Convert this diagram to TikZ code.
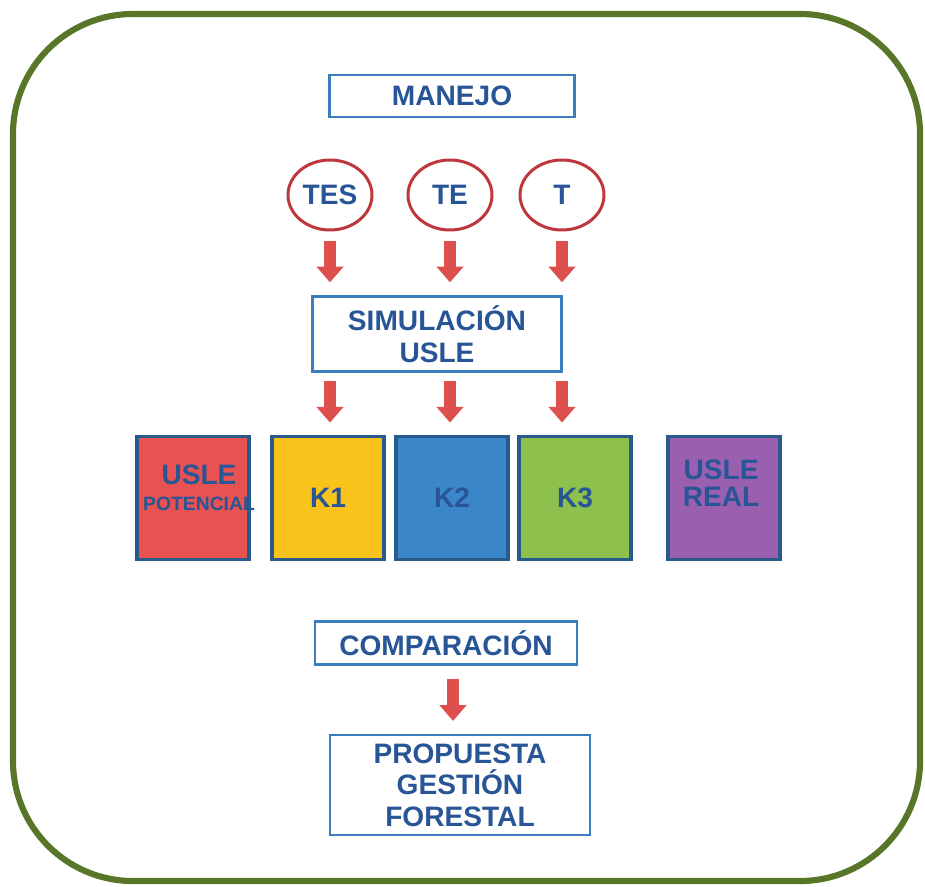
\documentclass[tikz,border=0pt]{standalone}
\usepackage{fontspec}
\setmainfont{Liberation Sans}
\usetikzlibrary{arrows.meta,shapes.geometric}
\definecolor{framegreen}{RGB}{88,118,40}
\definecolor{txtblue}{RGB}{40,85,150}
\definecolor{boxblue}{RGB}{60,125,190}
\definecolor{edgeblue}{RGB}{40,90,140}
\definecolor{ringred}{RGB}{190,55,60}
\definecolor{arrred}{RGB}{222,80,78}
\definecolor{kred}{RGB}{232,82,80}
\definecolor{kyellow}{RGB}{248,196,28}
\definecolor{kblue}{RGB}{58,134,200}
\definecolor{kgreen}{RGB}{141,192,77}
\definecolor{kpurple}{RGB}{155,95,176}
\tikzset{
  txt/.style={font=\bfseries\fontsize{16}{18}\selectfont, text=txtblue, align=center},
  labelbox/.style={txt, draw=boxblue, line width=1.3pt, fill=white},
  ring/.style={txt, ellipse, draw=ringred, line width=1.7pt, minimum width=1.68cm, minimum height=1.4cm, inner sep=0pt},
  kbox/.style={txt, draw=edgeblue, line width=2.2pt, minimum width=2.24cm, minimum height=2.46cm},
  blockarrow/.style={arrred, line width=7pt, -{Triangle[width=15pt,length=9pt]}}
}
\begin{document}
\begin{tikzpicture}[x=0.02cm, y=-0.02cm]
	\useasboundingbox (0,0) rectangle (925,886);
	\draw[framegreen, line width=3.5pt, rounded corners=2.4cm] (13,14) rectangle (920,881);
	\node[labelbox, minimum width=4.9cm, minimum height=0.84cm] (manejo) at (452,96) {MANEJO};
	\node[ring] (tes) at (330,195) {TES};
	\node[ring] (te) at (450,195) {TE};
	\node[ring] (t) at (562,195) {T};
	\node[labelbox, minimum width=4.98cm, minimum height=1.5cm] (sim) at (437,334) {SIMULACIÓN\\USLE};
	\node[kbox, fill=kred] (pot) at (193,498) {};
	\node[txt, inner sep=0pt] at (199,488) {USLE\\[-3pt]{\fontsize{11}{12}\selectfont POTENCIAL}};
	\node[kbox, fill=kyellow] (k1) at (328,498) {K1};
	\node[kbox, fill=kblue] (k2) at (452,498) {K2};
	\node[kbox, fill=kgreen] (k3) at (575,498) {K3};
	\node[kbox, fill=kpurple] (real) at (724,498) {};
	\node[txt, inner sep=0pt] at (721,483) {USLE\\[-3pt]REAL};
	\node[labelbox, minimum width=5.24cm, minimum height=0.86cm] (compar) at (446,643) {COMPARACIÓN};
	\node[labelbox, minimum width=5.2cm, minimum height=2cm] (prop) at (460,785) {PROPUESTA\\GESTIÓN\\FORESTAL};
	\foreach \c in {tes,te,t} {
		\draw[blockarrow, shorten <=0.2cm, shorten >=0.26cm] (\c.south) -- (\c |- sim.north);
		\draw[blockarrow, shorten <=0.16cm, shorten >=0.24cm] (\c |- sim.south) -- (\c |- k1.north);
	}
	\draw[blockarrow, shorten <=0.26cm, shorten >=0.26cm] ([xshift=0.14cm]compar.south) -- ([xshift=0.14cm]compar.south |- prop.north);
\end{tikzpicture}
\end{document}
